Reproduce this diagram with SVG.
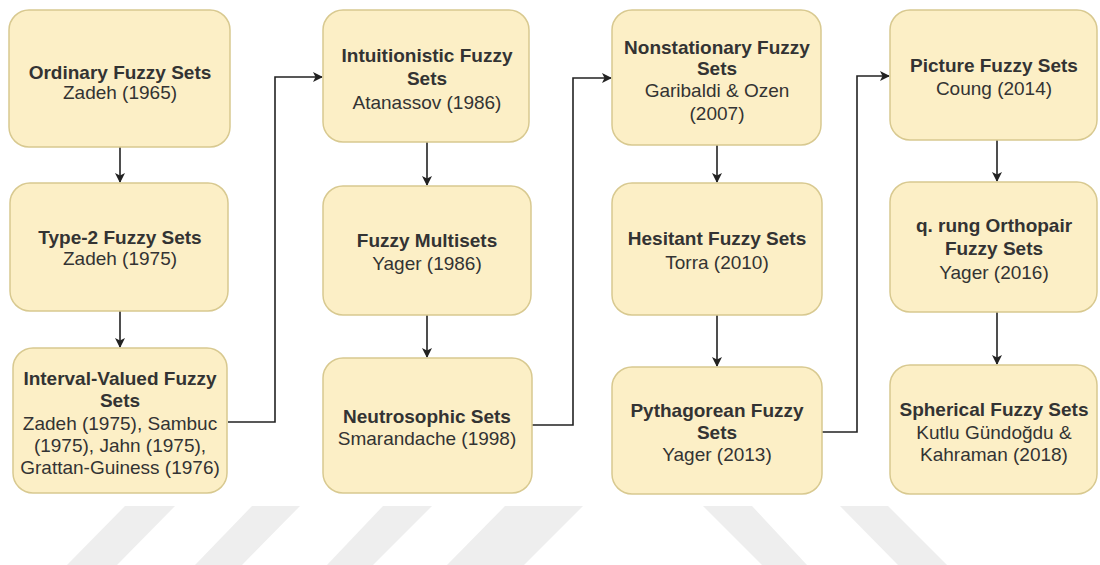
<svg xmlns="http://www.w3.org/2000/svg" width="1100" height="565" viewBox="0 0 1100 565">
<style>
.box{fill:#fcefc6;stroke:#d8c990;stroke-width:1.5}
.t{font-family:"Liberation Sans",Arial,sans-serif;font-size:19px;fill:#333;text-anchor:middle}
.b{font-weight:bold}
.c{fill:none;stroke:#222;stroke-width:1.6}
.wm{fill:#eeeeee}
</style>
<defs>
<marker id="ah" markerWidth="10" markerHeight="10" refX="9" refY="5" orient="auto" markerUnits="userSpaceOnUse">
<path d="M0,0 L10,5 L0,10 L2.5,5 Z" fill="#222"/>
</marker>
</defs>
<rect width="1100" height="565" fill="#fff"/>
<g id="watermark">
<polygon class="wm" points="125,506 175,506 117,565 67,565"/>
<polygon class="wm" points="252,506 300,506 242,565 195,565"/>
<polygon class="wm" points="383,506 432,506 373,565 327,565"/>
<polygon class="wm" points="505,506 583,506 524,565 447,565"/>
<polygon class="wm" points="703,506 752,506 807,565 762,565"/>
<polygon class="wm" points="840,506 888,506 947,565 898,565"/>
</g>
<g id="connectors">
<path class="c" d="M120,147 V182" marker-end="url(#ah)"/>
<path class="c" d="M120,311 V347" marker-end="url(#ah)"/>
<path class="c" d="M228,422 H275 V77 H322" marker-end="url(#ah)"/>
<path class="c" d="M427,142 V185" marker-end="url(#ah)"/>
<path class="c" d="M427,315 V357" marker-end="url(#ah)"/>
<path class="c" d="M532,425 H573 V78 H611" marker-end="url(#ah)"/>
<path class="c" d="M717,145 V182" marker-end="url(#ah)"/>
<path class="c" d="M717,315 V366" marker-end="url(#ah)"/>
<path class="c" d="M822,432 H857 V76 H889" marker-end="url(#ah)"/>
<path class="c" d="M997,140 V181" marker-end="url(#ah)"/>
<path class="c" d="M997,312 V364" marker-end="url(#ah)"/>
</g>
<g id="n1">
<rect class="box" x="9" y="10" width="221" height="137" rx="20"/>
<text class="t b" x="120" y="79">Ordinary Fuzzy Sets</text>
<text class="t" x="120" y="99">Zadeh (1965)</text>
</g>
<g id="n2">
<rect class="box" x="10" y="183" width="218" height="128" rx="20"/>
<text class="t b" x="120" y="244">Type-2 Fuzzy Sets</text>
<text class="t" x="120" y="265">Zadeh (1975)</text>
</g>
<g id="n3">
<rect class="box" x="13" y="348" width="214" height="145" rx="20"/>
<text class="t b" x="120" y="385">Interval-Valued Fuzzy</text>
<text class="t b" x="120" y="407">Sets</text>
<text class="t" x="120" y="430">Zadeh (1975), Sambuc</text>
<text class="t" x="120" y="452">(1975), Jahn (1975),</text>
<text class="t" x="120" y="474">Grattan-Guiness (1976)</text>
</g>
<g id="n4">
<rect class="box" x="323" y="10" width="206" height="132" rx="20"/>
<text class="t b" x="427" y="62">Intuitionistic Fuzzy</text>
<text class="t b" x="427" y="85">Sets</text>
<text class="t" x="427" y="109">Atanassov (1986)</text>
</g>
<g id="n5">
<rect class="box" x="323" y="186" width="208" height="129" rx="20"/>
<text class="t b" x="427" y="247">Fuzzy Multisets</text>
<text class="t" x="427" y="270">Yager (1986)</text>
</g>
<g id="n6">
<rect class="box" x="323" y="358" width="209" height="135" rx="20"/>
<text class="t b" x="427" y="423">Neutrosophic Sets</text>
<text class="t" x="427" y="445">Smarandache (1998)</text>
</g>
<g id="n7">
<rect class="box" x="612" y="10" width="209" height="135" rx="20"/>
<text class="t b" x="717" y="54">Nonstationary Fuzzy</text>
<text class="t b" x="717" y="75">Sets</text>
<text class="t" x="717" y="97">Garibaldi &amp; Ozen</text>
<text class="t" x="717" y="120">(2007)</text>
</g>
<g id="n8">
<rect class="box" x="612" y="183" width="210" height="132" rx="20"/>
<text class="t b" x="717" y="245">Hesitant Fuzzy Sets</text>
<text class="t" x="717" y="269">Torra (2010)</text>
</g>
<g id="n9">
<rect class="box" x="612" y="367" width="210" height="127" rx="20"/>
<text class="t b" x="717" y="417">Pythagorean Fuzzy</text>
<text class="t b" x="717" y="439">Sets</text>
<text class="t" x="717" y="461">Yager (2013)</text>
</g>
<g id="n10">
<rect class="box" x="890" y="10" width="207" height="130" rx="20"/>
<text class="t b" x="994" y="72">Picture Fuzzy Sets</text>
<text class="t" x="994" y="95">Coung (2014)</text>
</g>
<g id="n11">
<rect class="box" x="890" y="182" width="207" height="130" rx="20"/>
<text class="t b" x="994" y="232">q. rung Orthopair</text>
<text class="t b" x="994" y="255">Fuzzy Sets</text>
<text class="t" x="994" y="279">Yager (2016)</text>
</g>
<g id="n12">
<rect class="box" x="890" y="365" width="207" height="129" rx="20"/>
<text class="t b" x="994" y="416">Spherical Fuzzy Sets</text>
<text class="t" x="994" y="439">Kutlu Gündoğdu &amp;</text>
<text class="t" x="994" y="461">Kahraman (2018)</text>
</g>
</svg>
